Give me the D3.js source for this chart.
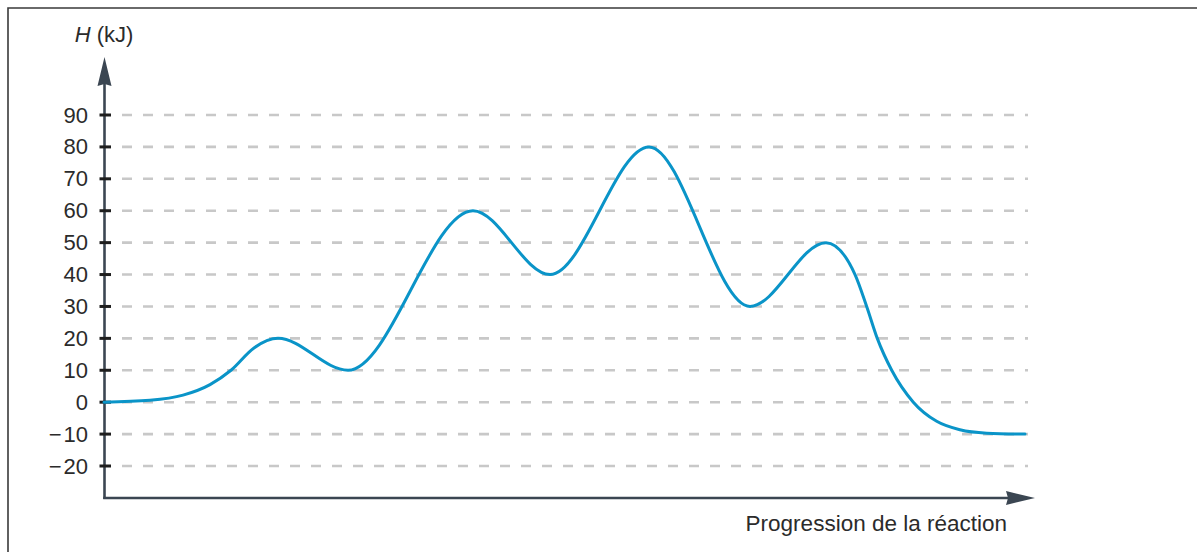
<!DOCTYPE html>
<html>
<head>
<meta charset="utf-8">
<script src="https://cdn.jsdelivr.net/npm/d3@7"></script>
<style>
  html, body { margin: 0; padding: 0; background: #fff; }
  svg { display: block; }
  text { font-family: "Liberation Sans", Arial, sans-serif; fill: #2b2b2b; }
</style>
</head>
<body>
<script>
// ---- data ----
const yTicks = [90, 80, 70, 60, 50, 40, 30, 20, 10, 0, -10, -20];
const yTickLabels = ["90", "80", "70", "60", "50", "40", "30", "20", "10", "0", "\u2212\u200A10", "\u2212\u200A20"];
const progress = [0, 4.94, 8.49, 11.39, 13.64, 16.11, 18.69, 26.21, 39.63, 47.91, 58.54, 69.39, 77.55, 80.67, 81.92, 83.06, 84.61, 86.93, 89.44, 91.94, 94.81, 98.93];
const enthalpy = [0, 0.6, 2.2, 5.5, 10, 17, 20, 10, 60, 40, 80, 30, 50, 40, 30, 20, 10, 0, -6, -8.65, -9.7, -10];
const yTitle = ["H", " (kJ)"];
const xTitle = "Progression de la réaction";

const W = 1197, H = 552;
const svg = d3.select("body").append("svg").attr("width", W).attr("height", H);

const x = d3.scaleLinear().domain([0, 100]).range([104, 1035]);
const y = d3.scaleLinear().domain([-20, 90]).range([466, 115]);

// frame (top and left edges)
svg.append("path")
  .attr("d", `M8,${H} L8,8 L${W},8`)
  .attr("fill", "none").attr("stroke", "#3a3a3a").attr("stroke-width", 1.6);

// gridlines
svg.append("g").selectAll("line").data(yTicks).join("line")
  .attr("x1", 122).attr("x2", 1028)
  .attr("y1", d => y(d)).attr("y2", d => y(d))
  .attr("stroke", "#c8c8c8").attr("stroke-width", 2.6)
  .attr("stroke-dasharray", "10,11");

// y axis labels via d3 axis
const yAxis = d3.axisLeft(y).tickValues(yTicks)
  .tickFormat((d, i) => yTickLabels[i]).tickSize(0).tickPadding(16);
const gy = svg.append("g").attr("transform", "translate(104,0)").call(yAxis);
gy.select(".domain").remove();
gy.selectAll("text").style("font-size", "22px").attr("fill", "#2b2b2b")
  .style("font-family", "'Liberation Sans', Arial, sans-serif");

const axisColor = "#3b4652";
const yBase = 498;
// y axis line + arrow
svg.append("line").attr("x1", 104.5).attr("x2", 104.5).attr("y1", yBase + 1).attr("y2", 82)
  .attr("stroke", axisColor).attr("stroke-width", 2.6);
svg.append("path").attr("d", "M104.5,57 L111.5,86 L104.5,84 L97.5,86 Z").attr("fill", axisColor);
// x axis line + arrow
svg.append("line").attr("x1", 103.2).attr("x2", 1010).attr("y1", yBase).attr("y2", yBase)
  .attr("stroke", axisColor).attr("stroke-width", 2.6);
svg.append("path").attr("d", `M1035,${yBase} L1006,${yBase - 7} L1008,${yBase} L1006,${yBase + 7} Z`).attr("fill", axisColor);

// tick marks
svg.append("g").selectAll("line").data(yTicks).join("line")
  .attr("x1", 99.5).attr("x2", 111)
  .attr("y1", d => y(d)).attr("y2", d => y(d))
  .attr("stroke", "#1e1e1e").attr("stroke-width", 3);

// curve
const line = d3.line().x(d => x(d[0])).y(d => y(d[1])).curve(d3.curveMonotoneX);
svg.append("path").datum(progress.map((p, i) => [p, enthalpy[i]]))
  .attr("d", line).attr("fill", "none")
  .attr("stroke", "#0a94c8").attr("stroke-width", 3).attr("stroke-linecap", "round");

// titles
const yt = svg.append("text").attr("x", 104).attr("y", 42).attr("text-anchor", "middle")
  .style("font-size", "22px");
yt.append("tspan").style("font-style", "italic").text(yTitle[0]);
yt.append("tspan").text(yTitle[1]);

svg.append("text").attr("x", 1007).attr("y", 531).attr("text-anchor", "end")
  .style("font-size", "22.5px").text(xTitle);
</script>
</body>
</html>
